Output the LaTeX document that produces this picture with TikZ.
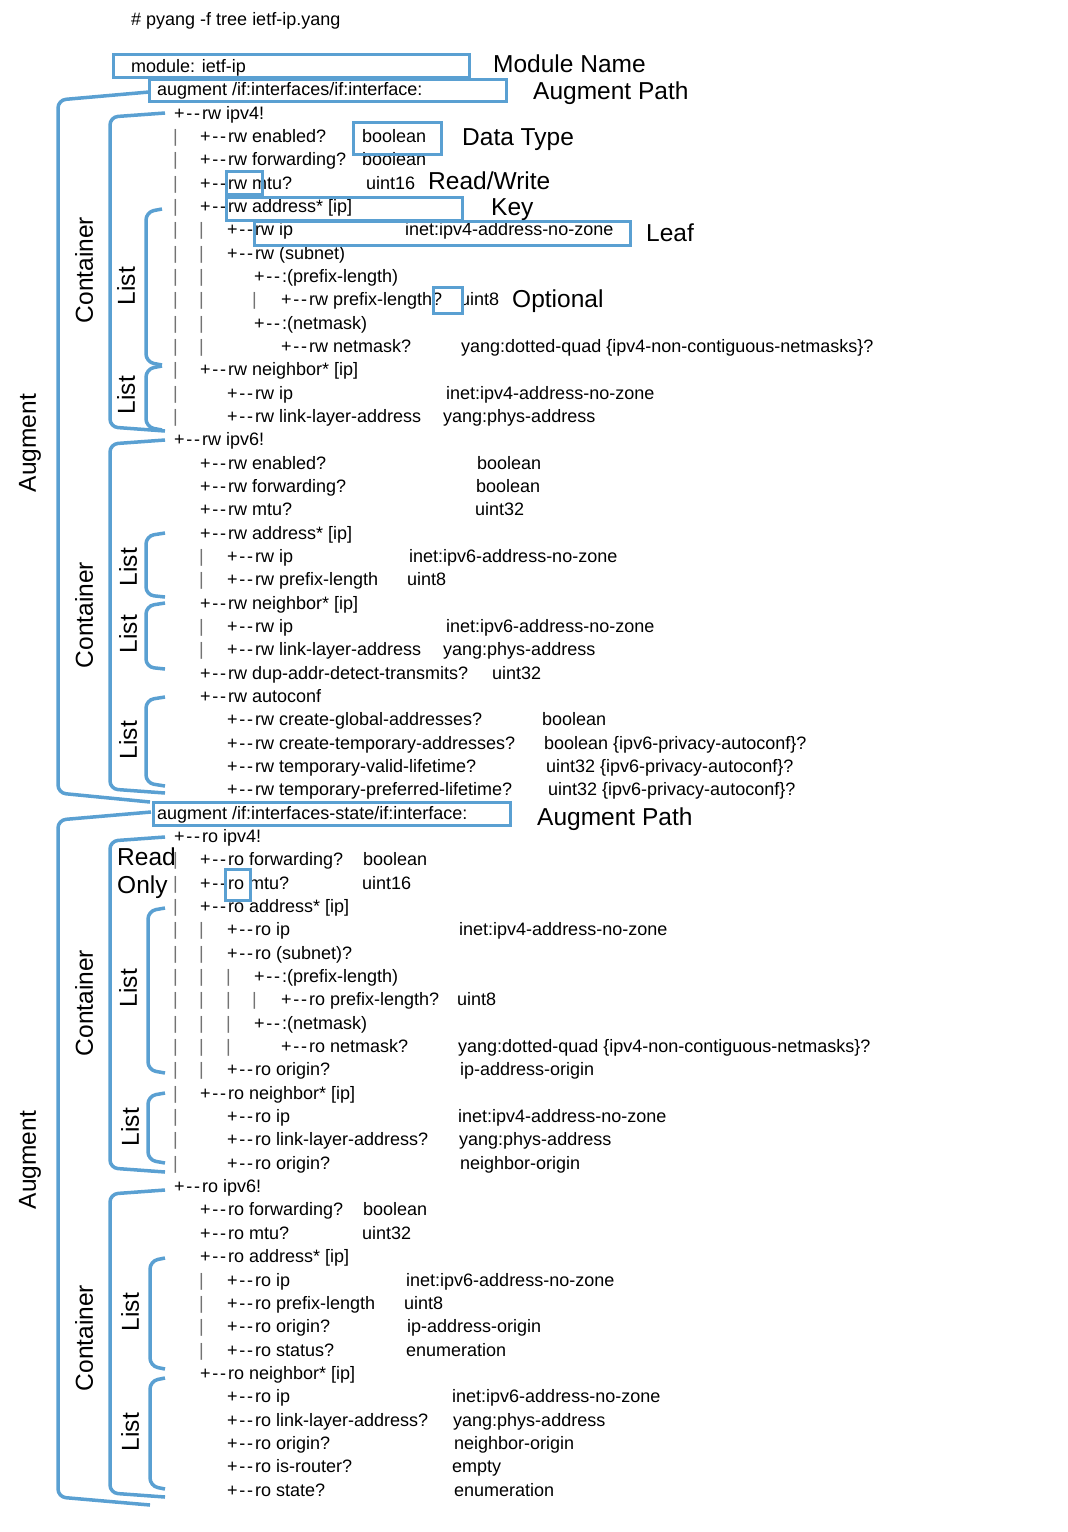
\documentclass[tikz,border=0pt]{standalone}
\usepackage{fontspec}
\newfontfamily\tf{Liberation Sans}
\newcommand\treefont{\tf\fontsize{18}{22}\selectfont}
\newcommand\labfont{\tf\fontsize{24.5}{28}\selectfont}
\definecolor{cblue}{RGB}{90,160,210}
\newcommand\tb{+\kern1.6pt\mbox{-}\kern1.8pt\mbox{-}\kern2pt}
\newcommand\trow[4]{\node[tx] (#1) at (#2,{119+23.34*(#3)}) {#4};}
\newcommand\tpipe[3]{\node[pipe] (#1) at (#2,{119+23.34*(#3)}) {|};}
\begin{document}
\begin{tikzpicture}[x=1pt,y=-1pt,
  tx/.style={anchor=base west,inner sep=0pt,font=\treefont,text=black},
  pipe/.style={anchor=base west,inner sep=0pt,font=\treefont,text=black!55},
  lab/.style={anchor=base west,inner sep=0pt,font=\labfont,text=black},
  rot/.style={rotate=90,inner sep=0pt,font=\labfont,text=black},
  hbox/.style={draw=cblue,line width=3pt},
  brk/.style={draw=cblue,line width=3.5pt,rounded corners=8pt}]
\fill[white] (0,0) rectangle (1068,1532);
\useasboundingbox (0,0) rectangle (1068,1532);
\node[tx] (hdr) at (131,25) {\# pyang -f tree ietf-ip.yang};
\trow{mod}{131}{-2}{module: ietf-ip}
\trow{aug1}{157}{-1}{augment /if:interfaces/if:interface:}
% rw ipv4
\trow{a0}{174}{0}{\tb rw ipv4!}
\trow{a1}{200}{1}{\tb rw enabled?}\trow{b1}{362}{1}{boolean}
\trow{a2}{200}{2}{\tb rw forwarding?}\trow{b2}{362}{2}{boolean}
\trow{a3}{200}{3}{\tb rw mtu?}\trow{b3}{366}{3}{uint16}
\trow{a4}{200}{4}{\tb rw address* [ip]}
\trow{a5}{227}{5}{\tb rw ip}\trow{b5}{405}{5}{inet:ipv4-address-no-zone}
\trow{a6}{227}{6}{\tb rw (subnet)}
\trow{a7}{254}{7}{\tb:(prefix-length)}
\trow{a8}{281}{8}{\tb rw prefix-length?}\trow{b8}{460}{8}{uint8}
\trow{a9}{254}{9}{\tb:(netmask)}
\trow{a10}{281}{10}{\tb rw netmask?}\trow{b10}{461}{10}{yang:dotted-quad \{ipv4-non-contiguous-netmasks\}?}
\trow{a11}{200}{11}{\tb rw neighbor* [ip]}
\trow{a12}{227}{12}{\tb rw ip}\trow{b12}{446}{12}{inet:ipv4-address-no-zone}
\trow{a13}{227}{13}{\tb rw link-layer-address}\trow{b13}{443}{13}{yang:phys-address}
% rw ipv6
\trow{a14}{174}{14}{\tb rw ipv6!}
\trow{a15}{200}{15}{\tb rw enabled?}\trow{b15}{477}{15}{boolean}
\trow{a16}{200}{16}{\tb rw forwarding?}\trow{b16}{476}{16}{boolean}
\trow{a17}{200}{17}{\tb rw mtu?}\trow{b17}{475}{17}{uint32}
\trow{a18}{200}{18}{\tb rw address* [ip]}
\trow{a19}{227}{19}{\tb rw ip}\trow{b19}{409}{19}{inet:ipv6-address-no-zone}
\trow{a20}{227}{20}{\tb rw prefix-length}\trow{b20}{407}{20}{uint8}
\trow{a21}{200}{21}{\tb rw neighbor* [ip]}
\trow{a22}{227}{22}{\tb rw ip}\trow{b22}{446}{22}{inet:ipv6-address-no-zone}
\trow{a23}{227}{23}{\tb rw link-layer-address}\trow{b23}{443}{23}{yang:phys-address}
\trow{a24}{200}{24}{\tb rw dup-addr-detect-transmits?}\trow{b24}{492}{24}{uint32}
\trow{a25}{200}{25}{\tb rw autoconf}
\trow{a26}{227}{26}{\tb rw create-global-addresses?}\trow{b26}{542}{26}{boolean}
\trow{a27}{227}{27}{\tb rw create-temporary-addresses?}\trow{b27}{544}{27}{boolean \{ipv6-privacy-autoconf\}?}
\trow{a28}{227}{28}{\tb rw temporary-valid-lifetime?}\trow{b28}{546}{28}{uint32 \{ipv6-privacy-autoconf\}?}
\trow{a29}{227}{29}{\tb rw temporary-preferred-lifetime?}\trow{b29}{548}{29}{uint32 \{ipv6-privacy-autoconf\}?}
\trow{aug2}{157}{30}{augment /if:interfaces-state/if:interface:}
% ro ipv4
\trow{a31}{174}{31}{\tb ro ipv4!}
\trow{a32}{200}{32}{\tb ro forwarding?}\trow{b32}{363}{32}{boolean}
\trow{a33}{200}{33}{\tb ro mtu?}\trow{b33}{362}{33}{uint16}
\trow{a34}{200}{34}{\tb ro address* [ip]}
\trow{a35}{227}{35}{\tb ro ip}\trow{b35}{459}{35}{inet:ipv4-address-no-zone}
\trow{a36}{227}{36}{\tb ro (subnet)?}
\trow{a37}{254}{37}{\tb:(prefix-length)}
\trow{a38}{281}{38}{\tb ro prefix-length?}\trow{b38}{457}{38}{uint8}
\trow{a39}{254}{39}{\tb:(netmask)}
\trow{a40}{281}{40}{\tb ro netmask?}\trow{b40}{458}{40}{yang:dotted-quad \{ipv4-non-contiguous-netmasks\}?}
\trow{a41}{227}{41}{\tb ro origin?}\trow{b41}{460}{41}{ip-address-origin}
\trow{a42}{200}{42}{\tb ro neighbor* [ip]}
\trow{a43}{227}{43}{\tb ro ip}\trow{b43}{458}{43}{inet:ipv4-address-no-zone}
\trow{a44}{227}{44}{\tb ro link-layer-address?}\trow{b44}{459}{44}{yang:phys-address}
\trow{a45}{227}{45}{\tb ro origin?}\trow{b45}{460}{45}{neighbor-origin}
% ro ipv6
\trow{a46}{174}{46}{\tb ro ipv6!}
\trow{a47}{200}{47}{\tb ro forwarding?}\trow{b47}{363}{47}{boolean}
\trow{a48}{200}{48}{\tb ro mtu?}\trow{b48}{362}{48}{uint32}
\trow{a49}{200}{49}{\tb ro address* [ip]}
\trow{a50}{227}{50}{\tb ro ip}\trow{b50}{406}{50}{inet:ipv6-address-no-zone}
\trow{a51}{227}{51}{\tb ro prefix-length}\trow{b51}{404}{51}{uint8}
\trow{a52}{227}{52}{\tb ro origin?}\trow{b52}{407}{52}{ip-address-origin}
\trow{a53}{227}{53}{\tb ro status?}\trow{b53}{406}{53}{enumeration}
\trow{a54}{200}{54}{\tb ro neighbor* [ip]}
\trow{a55}{227}{55}{\tb ro ip}\trow{b55}{452}{55}{inet:ipv6-address-no-zone}
\trow{a56}{227}{56}{\tb ro link-layer-address?}\trow{b56}{453}{56}{yang:phys-address}
\trow{a57}{227}{57}{\tb ro origin?}\trow{b57}{454}{57}{neighbor-origin}
\trow{a58}{227}{58}{\tb ro is-router?}\trow{b58}{452}{58}{empty}
\trow{a59}{227}{59}{\tb ro state?}\trow{b59}{454}{59}{enumeration}
% pipes
\foreach \r in {1,...,13}{\tpipe{pa\r}{173}{\r}}
\foreach \r in {5,...,10}{\tpipe{pb\r}{199}{\r}}
\tpipe{pc8}{252}{8}
\foreach \r in {19,20,22,23}{\tpipe{pb\r}{199}{\r}}
\foreach \r in {32,...,45}{\tpipe{pa\r}{173}{\r}}
\foreach \r in {35,...,41}{\tpipe{pb\r}{199}{\r}}
\foreach \r in {37,...,40}{\tpipe{pc\r}{226}{\r}}
\tpipe{pd38}{252}{38}
\foreach \r in {50,...,53}{\tpipe{pb\r}{199}{\r}}
% highlight boxes
\draw[hbox] (113,54) rectangle (469,77);
\draw[hbox] (149,79) rectangle (506,101);
\draw[hbox] (353,122) rectangle (441,154);
\draw[hbox] (226,171) rectangle (262,194);
\draw[hbox] (226,197) rectangle (462,220);
\draw[hbox] (254,221) rectangle (630,245);
\draw[hbox] (433,287) rectangle (462,313);
\draw[hbox] (153,802) rectangle (510,825);
\draw[hbox] (225,869) rectangle (250,900);
% labels
\node[lab] (lmod) at (493,72) {Module Name};
\node[lab] (laug1) at (533,99) {Augment Path};
\node[lab] (ldt) at (462,145) {Data Type};
\node[lab] (lrw) at (428,189) {Read/Write};
\node[lab] (lkey) at (491,215) {Key};
\node[lab] (lleaf) at (646,241) {Leaf};
\node[lab] (lopt) at (512,307) {Optional};
\node[lab] (laug2) at (537,825) {Augment Path};
\node[lab] (lread) at (117,865) {Read};
\node[lab] (lonly) at (117,893) {Only};
% brackets
\draw[brk] (149,92) -- (58,100) -- (58,793) -- (150,802);
\draw[brk] (151,812) -- (58,820) -- (58,1497) -- (150,1505);
\draw[brk] (165,113) -- (110,117) -- (110,427) -- (165,431);
\draw[brk] (162,209) -- (146,212) -- (146,362) -- (162,365);
\draw[brk] (162,366) -- (146,369) -- (146,427) -- (162,430);
\draw[brk] (165,440) -- (110,444) -- (110,789) -- (165,793);
\draw[brk] (165,533) -- (146,536) -- (146,595) -- (165,597);
\draw[brk] (165,603) -- (146,606) -- (146,667) -- (165,669);
\draw[brk] (165,697) -- (146,700) -- (146,783) -- (165,786);
\draw[brk] (165,837) -- (110,841) -- (110,1168) -- (165,1172);
\draw[brk] (165,908) -- (148,911) -- (148,1070) -- (165,1073);
\draw[brk] (165,1093) -- (148,1096) -- (148,1160) -- (165,1163);
\draw[brk] (165,1190) -- (110,1194) -- (110,1493) -- (165,1497);
\draw[brk] (165,1258) -- (150,1261) -- (150,1366) -- (165,1369);
\draw[brk] (165,1378) -- (150,1381) -- (150,1486) -- (165,1489);
% rotated labels
\node[rot] (ra1) at (30,443) {Augment};
\node[rot] (rc1) at (84,270) {Container};
\node[rot] (rl1) at (126,286) {List};
\node[rot] (rl2) at (126,395) {List};
\node[rot] (rc2) at (84,615) {Container};
\node[rot] (rl3) at (128,567) {List};
\node[rot] (rl4) at (128,634) {List};
\node[rot] (rl5) at (128,740) {List};
\node[rot] (ra2) at (30,1160) {Augment};
\node[rot] (rc3) at (84,1003) {Container};
\node[rot] (rl6) at (128,988) {List};
\node[rot] (rl7) at (130,1127) {List};
\node[rot] (rc4) at (84,1338) {Container};
\node[rot] (rl8) at (130,1312) {List};
\node[rot] (rl9) at (130,1432) {List};
\end{tikzpicture}
\end{document}
